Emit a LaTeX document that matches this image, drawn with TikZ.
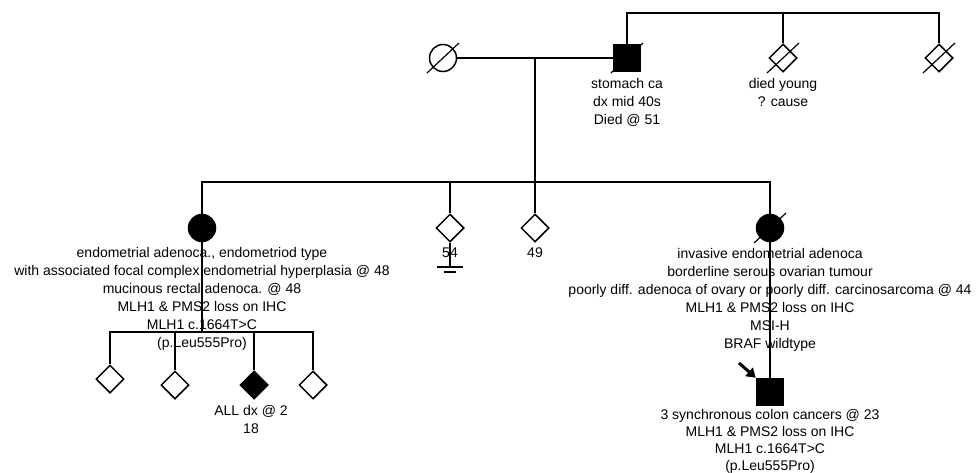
\documentclass[tikz,border=0pt]{standalone}
\usepackage{fontspec}
\setmainfont{Liberation Sans}
\usetikzlibrary{positioning, arrows.meta, shapes.geometric}

\begin{document}
\begin{tikzpicture}[x=1pt, y=-1pt, line width=1.5pt, node distance=5pt,
        female/.style={circle, draw=black, fill=white, minimum size=27pt, inner sep=0pt},
        male/.style={rectangle, draw=black, fill=white, minimum size=27pt, inner sep=0pt},
        unknown/.style={diamond, draw=black, fill=white, minimum width=28pt, minimum height=28pt, inner sep=0pt},
        affected/.style={fill=black},
        note/.style={align=center, inner sep=0pt, font=\fontsize{14}{18}\selectfont},
        deadline/.style={line width=1.2pt},
        probarrow/.style={-{Triangle[length=9pt, width=11pt]}, line width=3pt}]

    \useasboundingbox (0,0) rectangle (976,473);

    % generation I
    \node[female] (gma) at (443,58) {};
    \node[male, affected] (gpa) at (627,58) {};
    \node[unknown] (gpasib1) at (783,58) {};
    \node[unknown] (gpasib2) at (939,58) {};
    \coordinate (marriage) at (535,58);
    \coordinate (gen1top) at (783,13);

    \node[note, below=5pt of gpa] (gpanote) {stomach ca\\dx mid 40s\\Died @ 51};
    \node[note, below=5pt of gpasib1] (gpasib1note) {died young\\? cause};

    % generation II
    \node[female, affected] (dau1) at (202,228) {};
    \node[unknown] (sib54) at (450,228) {};
    \node[unknown] (sib49) at (535,228) {};
    \node[female, affected] (dau2) at (770,228) {};
    \coordinate (gen2) at (535,182);
    \coordinate (nokids) at (450,267);
    \coordinate (nokidsshort) at (450,272);

    \node[note, below=4.5pt of dau1] (dau1note) {endometrial adenoca., endometriod type\\with associated focal complex endometrial hyperplasia @ 48\\mucinous rectal adenoca. @ 48\\MLH1 \& PMS2 loss on IHC\\MLH1 c.1664T>C\\(p.Leu555Pro)};
    \node[note, below=4pt of sib54] (sib54note) {54};
    \node[note, below=4pt of sib49] (sib49note) {49};
    \node[note, below=5pt of dau2] (dau2note) {invasive endometrial adenoca\\borderline serous ovarian tumour\\poorly diff. adenoca of ovary or poorly diff. carcinosarcoma @ 44\\MLH1 \& PMS2 loss on IHC\\MSI-H\\BRAF wildtype};

    % generation III
    \node[unknown] (gc1) at (110,379) {};
    \node[unknown] (gc2) at (175,385) {};
    \node[unknown, affected] (gc3) at (254,385) {};
    \node[unknown] (gc4) at (313,385) {};
    \node[male, affected] (proband) at (770,392) {};
    \coordinate (gen3) at (202,332);
    \coordinate (pointer) at (739,363);

    \node[note, below=4.5pt of gc3, xshift=-3pt] (gc3note) {ALL dx @ 2\\18};
    \node[note, below=2pt of proband, font=\fontsize{14}{17}\selectfont] (probandnote) {3 synchronous colon cancers @ 23\\MLH1 \& PMS2 loss on IHC\\MLH1 c.1664T>C\\(p.Leu555Pro)};

    % lines of descent
    \draw (gma) -- (gpa);
    \draw (gpa) -- (gpa |- gen1top) -- (gpasib2 |- gen1top) -- (gpasib2);
    \draw (gpasib1) -- (gpasib1 |- gen1top);
    \draw (marriage) -- (sib49);
    \draw (dau1) -- (dau1 |- gen2) -- (dau2 |- gen2) -- (dau2);
    \draw (sib54) -- (sib54 |- gen2);
    \draw (sib54) -- (nokids);
    \draw ([xshift=-13pt]nokids) -- ([xshift=13pt]nokids);
    \draw ([xshift=-6pt]nokidsshort) -- ([xshift=6pt]nokidsshort);
    \draw (dau1) -- (gen3);
    \draw (gc1) -- (gc1 |- gen3) -- (gc4 |- gen3) -- (gc4);
    \draw (gc2) -- (gc2 |- gen3);
    \draw (gc3) -- (gc3 |- gen3);
    \draw (dau2) -- (proband);
    \draw[probarrow] (pointer) -- (proband.north west);

    % deceased
    \foreach \who in {gma, gpa, gpasib1, gpasib2, dau2}
        \draw[deadline] ([shift={(-16,15)}]\who.center) -- ([shift={(16,-15)}]\who.center);
\end{tikzpicture}
\end{document}
